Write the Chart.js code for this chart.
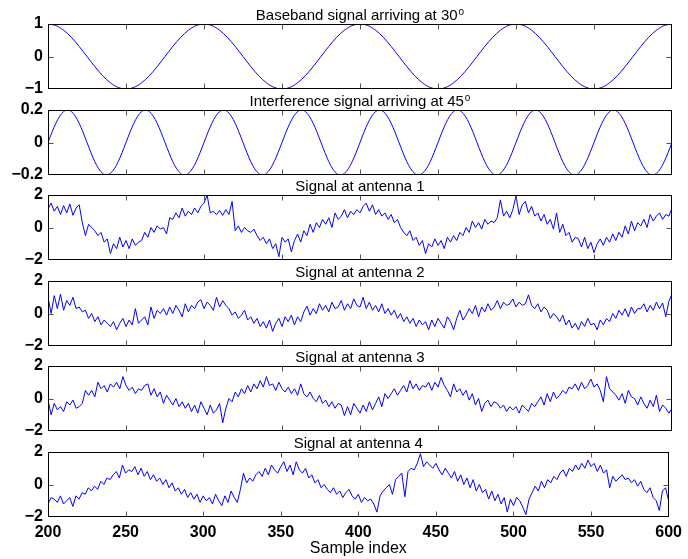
<!DOCTYPE html>
<html><head><meta charset="utf-8">
<script src="https://cdn.jsdelivr.net/npm/chart.js@4"></script>
<style>
html,body{margin:0;padding:0;background:#fff;}
#wrap{position:relative;width:688px;height:559px;overflow:hidden;background:#fff;}
#wrap canvas{position:absolute;left:0;}
</style></head><body><div id="wrap"></div>
<script>
// ---------- data ----------
const subplotTitles = [
  'Baseband signal arriving at 30',
  'Interference signal arriving at 45',
  'Signal at antenna 1',
  'Signal at antenna 2',
  'Signal at antenna 3',
  'Signal at antenna 4'
];
const titleSuperscripts = ['o', 'o', '', '', '', ''];
const xAxisTitle = 'Sample index';
const xRange = [200, 600];

// baseband: one value every 5 samples (200..600)
const baseband = [
 1, 0.951, 0.809, 0.588, 0.309, 0, -0.309, -0.588, -0.809, -0.951, -1, -0.951, -0.809, -0.588, -0.309, 0, 0.309, 0.588, 0.809, 0.951,
 1, 0.951, 0.809, 0.588, 0.309, 0, -0.309, -0.588, -0.809, -0.951, -1, -0.951, -0.809, -0.588, -0.309, 0, 0.309, 0.588, 0.809, 0.951,
 1, 0.951, 0.809, 0.588, 0.309, 0, -0.309, -0.588, -0.809, -0.951, -1, -0.951, -0.809, -0.588, -0.309, 0, 0.309, 0.588, 0.809, 0.951,
 1, 0.951, 0.809, 0.588, 0.309, 0, -0.309, -0.588, -0.809, -0.951, -1, -0.951, -0.809, -0.588, -0.309, 0, 0.309, 0.588, 0.809, 0.951,
 1
];
// interference: one value every 2.5 samples (200..600)
const interference = [
 0, 0.062, 0.118, 0.162, 0.19, 0.2, 0.19, 0.162, 0.118, 0.062, 0, -0.062, -0.118, -0.162, -0.19, -0.2, -0.19, -0.162, -0.118, -0.062,
 0, 0.062, 0.118, 0.162, 0.19, 0.2, 0.19, 0.162, 0.118, 0.062, 0, -0.062, -0.118, -0.162, -0.19, -0.2, -0.19, -0.162, -0.118, -0.062,
 0, 0.062, 0.118, 0.162, 0.19, 0.2, 0.19, 0.162, 0.118, 0.062, 0, -0.062, -0.118, -0.162, -0.19, -0.2, -0.19, -0.162, -0.118, -0.062,
 0, 0.062, 0.118, 0.162, 0.19, 0.2, 0.19, 0.162, 0.118, 0.062, 0, -0.062, -0.118, -0.162, -0.19, -0.2, -0.19, -0.162, -0.118, -0.062,
 0, 0.062, 0.118, 0.162, 0.19, 0.2, 0.19, 0.162, 0.118, 0.062, 0, -0.062, -0.118, -0.162, -0.19, -0.2, -0.19, -0.162, -0.118, -0.062,
 0, 0.062, 0.118, 0.162, 0.19, 0.2, 0.19, 0.162, 0.118, 0.062, 0, -0.062, -0.118, -0.162, -0.19, -0.2, -0.19, -0.162, -0.118, -0.062,
 0, 0.062, 0.118, 0.162, 0.19, 0.2, 0.19, 0.162, 0.118, 0.062, 0, -0.062, -0.118, -0.162, -0.19, -0.2, -0.19, -0.162, -0.118, -0.062,
 0, 0.062, 0.118, 0.162, 0.19, 0.2, 0.19, 0.162, 0.118, 0.062, 0, -0.062, -0.118, -0.162, -0.19, -0.2, -0.19, -0.162, -0.118, -0.062,
 0
];
// antenna signals: one value every 2 samples (200..600)
const antenna1 = [
 1.15, 1.5, 1.0, 1.3, 0.8, 1.35, 0.9, 1.45, 0.75, 1.2,
 1.4, 0.3, -0.5, 0.2, 0.0, -0.2, -0.5, -0.3, -0.9, -0.7,
 -1.6, -1.0, -1.3, -0.6, -1.2, -0.8, -1.3, -0.7, -1.1, -0.9,
 -0.8, -0.3, -0.6, 0.0, -0.3, 0.1, -0.1, 0.0, -0.4, 0.6,
 0.5, 0.9, 0.6, 1.2, 0.7, 1.0, 0.8, 1.2, 0.9, 1.3,
 1.5, 2.0, 0.9, 1.0, 0.8, 1.05, 0.75, 1.1, 0.8, 1.6,
 -0.2, 0.1, -0.3, 0.0, -0.2, -0.3, -0.1, -0.5, -0.8, -0.6,
 -1.0, -0.7, -1.3, -1.0, -1.8, -0.6, -0.9, -0.7, -1.5, -0.8,
 -0.4, -0.9, -0.2, -0.5, 0.2, -0.3, 0.3, 0.0, 0.5, 0.2,
 0.6, 0.0, 0.9, 0.5, 0.7, 1.1, 0.6, 1.0, 0.8, 1.1,
 0.9, 1.3, 1.5, 1.0, 1.4, 0.8, 1.1, 0.7, 0.9, 0.5,
 0.8, 0.3, 0.5, 0.0, -0.3, -0.5, -0.2, -0.8, -0.6, -1.1,
 -0.8, -1.6, -1.0, -1.2, -0.7, -1.1, -0.8, -1.3, -0.6, -0.9,
 -0.5, -0.8, -0.3, -0.5, 0.0, -0.3, 0.4, 0.0, 0.3, -0.1,
 0.5, 0.2, 0.4, 0.3, 0.6, 1.7, 0.7, 1.0, 0.6, 1.1,
 1.95, 0.8, 1.4, 1.6, 0.9, 1.3, 0.7, 0.9, 0.4, 0.8,
 0.2, 0.5, -0.1, 0.9, -0.3, 0.2, -0.5, -0.3, -0.9, -0.6,
 -0.7, -1.2, -0.6, -1.3, -0.9, -1.55, -1.0, -0.7, -1.1, -0.6,
 -0.9, -0.4, -0.8, -0.3, -0.6, 0.1, -0.4, 0.4, -0.2, 0.3,
 0.1, 0.5, 0.0, 0.8, 0.4, 0.7, 0.9, 0.5, 0.8, 0.7,
 1.2
];
const antenna2 = [
 1.0, 0.0, 1.1, 0.3, 1.2, 0.2, 0.8, 0.5, 1.0, 0.3,
 0.4, 0.1, 0.2, -0.3, 0.0, -0.5, -0.2, -0.7, -0.4, -0.6,
 -0.8, -0.5, -1.0, -0.6, -0.3, -0.8, -0.4, -0.7, 0.3, -0.6,
 -0.4, -0.2, -0.7, 0.4, -0.3, 0.2, 0.0, 0.3, -0.1, 0.4,
 0.0, 0.5, 0.2, -0.2, 0.6, 0.1, 0.5, 0.3, 0.7, 0.85,
 0.3, 0.7, 0.5, 0.2, 1.0, 0.4, 0.8, 0.5, 0.3, -0.1,
 0.1, -0.3, -0.1, 0.2, -0.4, -0.2, -0.6, -0.3, -0.8, -0.5,
 -0.9, -0.4, -1.1, -0.6, -0.3, -0.8, -0.2, -0.5, -0.1, -0.7,
 -0.2, -0.5, 0.1, 0.45, -0.1, 0.3, 0.0, 0.6, 0.2, 0.5,
 0.1, 0.7, 0.3, 0.4, 0.8, 0.2, 0.6, 0.3, 0.9, 0.5,
 0.4, 1.0, 0.3, 0.7, 0.2, 0.5, 0.1, 0.6, 0.0, 0.3,
 -0.1, 0.2, -0.3, 0.0, -0.5, -0.2, -0.6, -0.3, -0.8, -0.4,
 -0.7, -0.5, -1.0, -0.4, -0.8, -0.3, -0.6, -0.9, -0.2, -0.5,
 -1.0, -0.3, 0.2, -0.4, -0.1, 0.3, 0.0, 0.5, -0.2, 0.4,
 0.1, 0.6, 0.2, 0.4, 0.8, 0.3, 0.7, 0.5, 0.6, 0.9,
 0.4, 0.7, 0.5, 0.6, 1.15, 0.5, 0.3, 0.6, 0.1, 0.4,
 0.2, -0.3, 0.0, -0.2, -0.5, -0.1, -0.7, -0.4, -0.9, -0.6,
 -1.0, -0.5, -0.8, -0.3, -0.7, -0.6, -1.0, -0.4, -0.7, -0.3,
 -0.5, 0.0, -0.3, 0.2, -0.1, 0.3, -0.2, 0.4, 0.0, 0.3,
 0.3, 0.6, 0.1, 0.5, 0.2, 0.7, 0.3, 0.65, -0.2, 0.75,
 1.2
];
const antenna3 = [
 -0.1, -1.0, -0.3, -0.7, -0.5, -0.8, -0.2, -0.4, -0.1, -0.6,
 -0.5, -0.3, 0.5, 0.2, 0.5, 0.1, 1.0, 0.6, 0.8, 0.4,
 0.9, 0.7, 1.0, 0.6, 1.35, 0.8, 0.5, 0.7, 0.3, 0.6,
 0.5, 0.8, 0.9, 0.2, 0.6, 0.1, 0.4, -0.3, 0.2, -0.1,
 -0.4, 0.0, -0.5, -0.2, -0.6, -0.3, -0.8, -0.4, -0.9, -0.2,
 -0.6, -1.0, -0.4, -0.9, -0.7, -0.3, -1.5, -0.6, 0.0, -0.2,
 0.4, 0.1, 0.6, 0.3, 0.8, 0.4, 0.9, 0.6, 1.1, 0.7,
 1.35, 0.8, 0.9, 0.5, 1.0, 0.6, 0.4, 0.7, 0.3, 0.6,
 0.2, 0.9, 0.3, 0.1, 0.4, 0.0, -0.2, 0.2, -0.3, -0.1,
 -0.5, -0.2, -0.6, -0.3, -0.4, -1.05, -0.5, -1.0, -0.3, -0.6,
 -0.9, -0.4, -0.8, -0.2, -0.7, -0.3, 0.1, -0.5, 0.3, 0.0,
 0.3, 0.6, 0.2, 0.5, 0.8, 0.4, 1.1, 0.6, 0.9, 0.5,
 0.8, 0.7, 1.0, 0.5, 1.0, 0.7, 1.3, 0.8, 0.5, 0.1,
 0.9, 0.4, 0.6, 0.2, 0.5, -0.1, 0.3, -0.4, 0.0, -0.8,
 -0.3, -0.1, -0.5, -0.2, -0.3, -0.6, -0.4, -0.8, -0.5, -0.7,
 -0.5, -0.9, -0.4, -0.6, -0.8, -0.3, -0.5, -0.2, 0.1, -0.4,
 0.3, -0.2, 0.4, 0.0, 0.2, 0.5, 0.3, 0.7, 0.6, 0.9,
 0.5, 1.0, 0.6, 0.8, 1.2, 0.7, 0.9, 0.5, -0.2, 1.35,
 0.6, 0.4, 0.2, -0.1, 0.3, -0.3, 0.5, 0.1, 0.0, -0.4,
 0.1, -0.3, -0.6, -0.1, -0.5, 0.2, -0.8, -0.4, -0.6, -0.9,
 -0.6
];
const antenna4 = [
 -1.2, -0.8, -0.9, -1.1, -0.7, -1.2, -1.0, -0.8, -1.35, -0.7,
 -0.9, -0.5, -0.6, -0.2, -0.4, -0.1, -0.3, 0.2, 0.0, 0.4,
 0.3, 0.6, 0.8, 0.4, 1.2, 0.7, 0.9, 0.8, 1.1, 0.6,
 1.0, 0.5, 0.8, 0.3, 0.6, 0.2, 0.4, 0.0, 0.3, -0.2,
 0.1, -0.4, -0.2, -0.6, -0.3, -0.8, -0.5, -0.9, -0.6, -1.1,
 -0.7, -1.0, -0.8, -1.2, -0.6, -1.0, -1.3, -0.7, -1.1, -0.4,
 -0.8, -1.1, -0.3, 0.7, 0.1, 0.4, 0.2, 0.6, 0.8, 0.5,
 1.0, 0.6, 1.2, 0.9, 0.7, 1.1, 1.4, 0.8, 1.2, 0.6,
 1.4, 0.9, 0.7, 1.0, 0.4, 0.6, 0.1, 0.3, -0.2, 0.0,
 -0.3, -0.5, -0.2, -0.6, -0.4, -0.8, -0.5, -0.3, -0.7, -0.9,
 -0.6, -1.1, -0.8, -1.0, -0.9, -1.2, -1.7, -0.7, -0.4, -0.2,
 0.0, -0.6, 0.3, 0.5, 0.7, -0.75, 0.8, 1.0, 0.9, 1.3,
 1.9, 1.1, 1.4, 1.2, 1.0, 1.3, 0.9, 0.6, 1.0, 0.7,
 0.4, 0.8, 0.2, 0.6, 0.0, 0.4, -0.2, 0.3, -0.4, 0.0,
 -0.5, -0.3, -0.9, -0.4, -1.0, -0.6, -1.2, -0.8, -1.7, -0.9,
 -1.3, -0.8, -1.0, -1.4, -1.85, -0.9, -0.5, -0.1, -0.4, 0.2,
 -0.2, 0.3, 0.1, 0.5, 0.3, 0.7, 0.9, 0.5, 1.0, 0.8,
 1.2, 0.9, 1.3, 1.0, 1.5, 1.1, 1.3, 0.8, 1.2, 0.7,
 0.9, -0.2, 0.5, 0.2, 0.4, 0.6, 0.3, 0.4, 0.1, 0.3,
 -0.1, 0.2, -0.3, -0.5, -0.2, -0.8, -1.0, -1.6, -0.4, -0.2,
 -1.0
];

const series = [baseband, interference, antenna1, antenna2, antenna3, antenna4];
const sampleSteps = [5, 2.5, 2, 2, 2, 2];
const yLimits = [[-1, 1, 1], [-0.2, 0.2, 0.2], [-2, 2, 2], [-2, 2, 2], [-2, 2, 2], [-2, 2, 2]];
const smoothSeries = [true, true, false, false, false, false];

// ---------- layout ----------
const plotTops = [24, 110, 195, 281, 366, 452];
const PLOT_H = 65, TOP_PAD = 24, BOT_PAD = 15;
const FONT = "'Liberation Sans', Arial, Helvetica, sans-serif";

const fmt = v => {
  const r = Math.round(v * 10) / 10;
  return (r < 0 ? '\u2212' : '') + String(Math.abs(r));
};

const framePlugin = {
  id: 'frame',
  afterDraw(chart) {
    const ctx = chart.ctx, a = chart.chartArea;
    const xs = chart.scales.x, ys = chart.scales.y;
    const L = Math.round(a.left) + 0.5, R = Math.round(a.right) - 0.5;
    const T = Math.round(a.top) + 0.5, B = Math.round(a.bottom) - 0.5;
    ctx.save();
    // inward ticks
    ctx.strokeStyle = '#555';
    ctx.lineWidth = 1;
    ctx.beginPath();
    xs.ticks.forEach(t => {
      if (t.value <= xs.min || t.value >= xs.max) return;
      const px = Math.round(xs.getPixelForValue(t.value)) + 0.5;
      ctx.moveTo(px, T); ctx.lineTo(px, T + 5);
      ctx.moveTo(px, B); ctx.lineTo(px, B - 5);
    });
    ys.ticks.forEach(t => {
      if (t.value <= ys.min + 1e-9 || t.value >= ys.max - 1e-9) return;
      const py = Math.round(ys.getPixelForValue(t.value)) + 0.5;
      ctx.moveTo(L, py); ctx.lineTo(L + 5, py);
      ctx.moveTo(R, py); ctx.lineTo(R - 5, py);
    });
    ctx.stroke();
    // box
    ctx.strokeStyle = '#000';
    ctx.lineWidth = 1;
    ctx.strokeRect(L, T, R - L, B - T);
    // title
    const idx = chart.options.plugins.frame.index;
    const txt = subplotTitles[idx], sup = titleSuperscripts[idx];
    ctx.fillStyle = '#000';
    ctx.textBaseline = 'alphabetic';
    ctx.font = '15px ' + FONT;
    const w1 = ctx.measureText(txt).width;
    ctx.font = '10px ' + FONT;
    const w2 = sup ? ctx.measureText(sup).width + 1 : 0;
    const cx = (a.left + a.right) / 2;
    const x0 = cx - (w1 + w2) / 2;
    const base = a.top - 4;
    ctx.font = '15px ' + FONT;
    ctx.textAlign = 'left';
    ctx.fillText(txt, x0, base);
    if (sup) {
      ctx.font = '10px ' + FONT;
      ctx.fillText(sup, x0 + w1 + 1, base - 5);
    }
    // x axis title on the last subplot
    if (chart.options.plugins.frame.last) {
      ctx.font = '16px ' + FONT;
      ctx.textAlign = 'center';
      ctx.fillText(xAxisTitle, cx, a.bottom + 36);
    }
    ctx.restore();
  }
};

const wrap = document.getElementById('wrap');
series.forEach((vals, i) => {
  const isLast = i === series.length - 1;
  const top = plotTops[i] - TOP_PAD;
  const h = isLast ? 559 - top : TOP_PAD + PLOT_H + BOT_PAD;
  const canvas = document.createElement('canvas');
  canvas.width = 688; canvas.height = h;
  canvas.style.width = '688px'; canvas.style.height = h + 'px';
  canvas.style.top = top + 'px';
  wrap.appendChild(canvas);
  const step = sampleSteps[i];
  const pts = vals.map((v, k) => ({ x: xRange[0] + k * step, y: v }));
  const [ymin, ymax, ystep] = yLimits[i];
  new Chart(canvas, {
    type: 'line',
    data: { datasets: [{
      data: pts, borderColor: '#0000ff', borderWidth: 1, pointRadius: 0,
      fill: false, tension: smoothSeries[i] ? 0.4 : 0,
      cubicInterpolationMode: smoothSeries[i] ? 'monotone' : 'default'
    }] },
    options: {
      responsive: false, animation: false, devicePixelRatio: 1,
      layout: { padding: { top: TOP_PAD, right: 16, bottom: isLast ? 0 : BOT_PAD, left: 0 } },
      plugins: { legend: { display: false }, tooltip: { enabled: false }, title: { display: false },
                 frame: { index: i, last: isLast } },
      scales: {
        x: {
          type: 'linear', min: xRange[0], max: xRange[1],
          grid: { display: false, drawTicks: false }, border: { display: false },
          ticks: { display: isLast, stepSize: 50, autoSkip: false, maxRotation: 0,
                   color: '#000', padding: 6, font: { family: FONT, size: 16, weight: 'bold' },
                   callback: v => String(v) },
          afterFit(s) { s.height = isLast ? 42 : 0; }
        },
        y: {
          min: ymin, max: ymax,
          grid: { display: false, drawTicks: false }, border: { display: false },
          ticks: { stepSize: ystep, autoSkip: false, color: '#000', padding: 5,
                   font: { family: FONT, size: 16, weight: 'bold' }, callback: v => fmt(v) },
          afterFit(s) { s.width = 48; }
        }
      }
    },
    plugins: [framePlugin]
  });
});
</script>
</body></html>
